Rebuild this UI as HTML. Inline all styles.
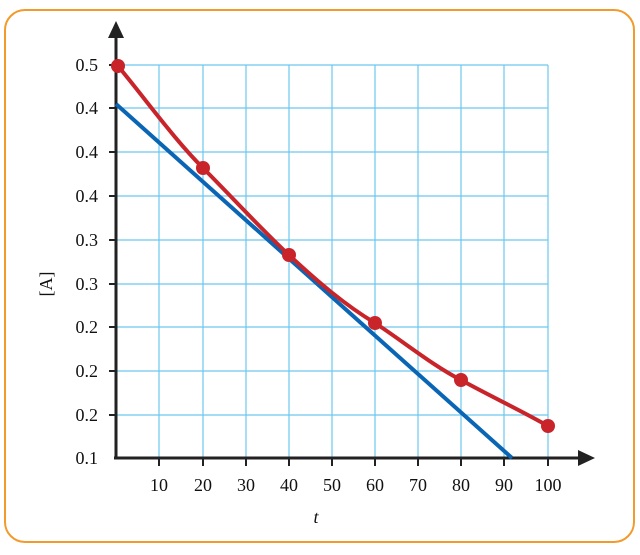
<!DOCTYPE html>
<html><head><style>
body{margin:0;background:#fff;width:640px;height:550px;overflow:hidden}
text{font-family:"Liberation Serif",serif;fill:#111;font-size:18px}
</style></head><body>
<svg width="640" height="550" viewBox="0 0 640 550">
<rect x="5" y="10" width="629" height="532" rx="20" fill="#fff" stroke="#f39a2c" stroke-width="2"/>
<g stroke="#6cc8ee" stroke-width="1.2">
<line x1="159" y1="65" x2="159" y2="458"/><line x1="203" y1="65" x2="203" y2="458"/>
<line x1="246" y1="65" x2="246" y2="458"/><line x1="289" y1="65" x2="289" y2="458"/>
<line x1="332" y1="65" x2="332" y2="458"/><line x1="375" y1="65" x2="375" y2="458"/>
<line x1="418" y1="65" x2="418" y2="458"/><line x1="461" y1="65" x2="461" y2="458"/>
<line x1="504" y1="65" x2="504" y2="458"/><line x1="548" y1="65" x2="548" y2="458"/>
<line x1="116" y1="65" x2="548" y2="65"/><line x1="116" y1="108" x2="548" y2="108"/>
<line x1="116" y1="152" x2="548" y2="152"/><line x1="116" y1="196" x2="548" y2="196"/>
<line x1="116" y1="240" x2="548" y2="240"/><line x1="116" y1="284" x2="548" y2="284"/>
<line x1="116" y1="327" x2="548" y2="327"/><line x1="116" y1="371" x2="548" y2="371"/>
<line x1="116" y1="415" x2="548" y2="415"/>
</g>
<g stroke="#222" stroke-width="3">
<line x1="116" y1="458" x2="116" y2="38"/><line x1="114" y1="458" x2="580" y2="458"/>
<g stroke-width="2">
<line x1="109" y1="65" x2="116" y2="65"/><line x1="109" y1="108" x2="116" y2="108"/>
<line x1="109" y1="152" x2="116" y2="152"/><line x1="109" y1="196" x2="116" y2="196"/>
<line x1="109" y1="240" x2="116" y2="240"/><line x1="109" y1="284" x2="116" y2="284"/>
<line x1="109" y1="327" x2="116" y2="327"/><line x1="109" y1="371" x2="116" y2="371"/>
<line x1="109" y1="415" x2="116" y2="415"/>
<line x1="159" y1="458" x2="159" y2="466"/><line x1="203" y1="458" x2="203" y2="466"/>
<line x1="246" y1="458" x2="246" y2="466"/><line x1="289" y1="458" x2="289" y2="466"/>
<line x1="332" y1="458" x2="332" y2="466"/><line x1="375" y1="458" x2="375" y2="466"/>
<line x1="418" y1="458" x2="418" y2="466"/><line x1="461" y1="458" x2="461" y2="466"/>
<line x1="504" y1="458" x2="504" y2="466"/><line x1="548" y1="458" x2="548" y2="466"/>
</g></g>
<polygon points="116,21 108,38 124,38" fill="#222"/>
<polygon points="595,458 578,450 578,466" fill="#222"/>
<line x1="116" y1="104" x2="512" y2="458" stroke="#0a66b4" stroke-width="4"/>
<path d="M118,66 C150,105 175,140 203,168 C232,197 260,228 289,255 C318,282 345,305 375,323 C404,342 432,365 461,380 C490,396 520,410 548,426" fill="none" stroke="#c8242a" stroke-width="4"/>
<g fill="#c8242a">
<circle cx="118" cy="66" r="7"/><circle cx="203" cy="168" r="7"/><circle cx="289" cy="255" r="7"/>
<circle cx="375" cy="323" r="7"/><circle cx="461" cy="380" r="7"/><circle cx="548" cy="426" r="7"/>
</g>
<g text-anchor="end">
<text x="98" y="71">0.5</text><text x="98" y="114">0.4</text><text x="98" y="158">0.4</text>
<text x="98" y="202">0.4</text><text x="98" y="246">0.3</text><text x="98" y="290">0.3</text>
<text x="98" y="333">0.2</text><text x="98" y="377">0.2</text><text x="98" y="421">0.2</text>
<text x="98" y="464">0.1</text>
</g>
<g text-anchor="middle">
<text x="159" y="491">10</text><text x="203" y="491">20</text><text x="246" y="491">30</text>
<text x="289" y="491">40</text><text x="332" y="491">50</text><text x="375" y="491">60</text>
<text x="418" y="491">70</text><text x="461" y="491">80</text><text x="504" y="491">90</text>
<text x="548" y="491">100</text>
<text x="316" y="523" font-style="italic" font-size="20">t</text>
<text transform="translate(52,284) rotate(-90)" font-size="20">[A]</text>
</g>
</svg>
</body></html>
